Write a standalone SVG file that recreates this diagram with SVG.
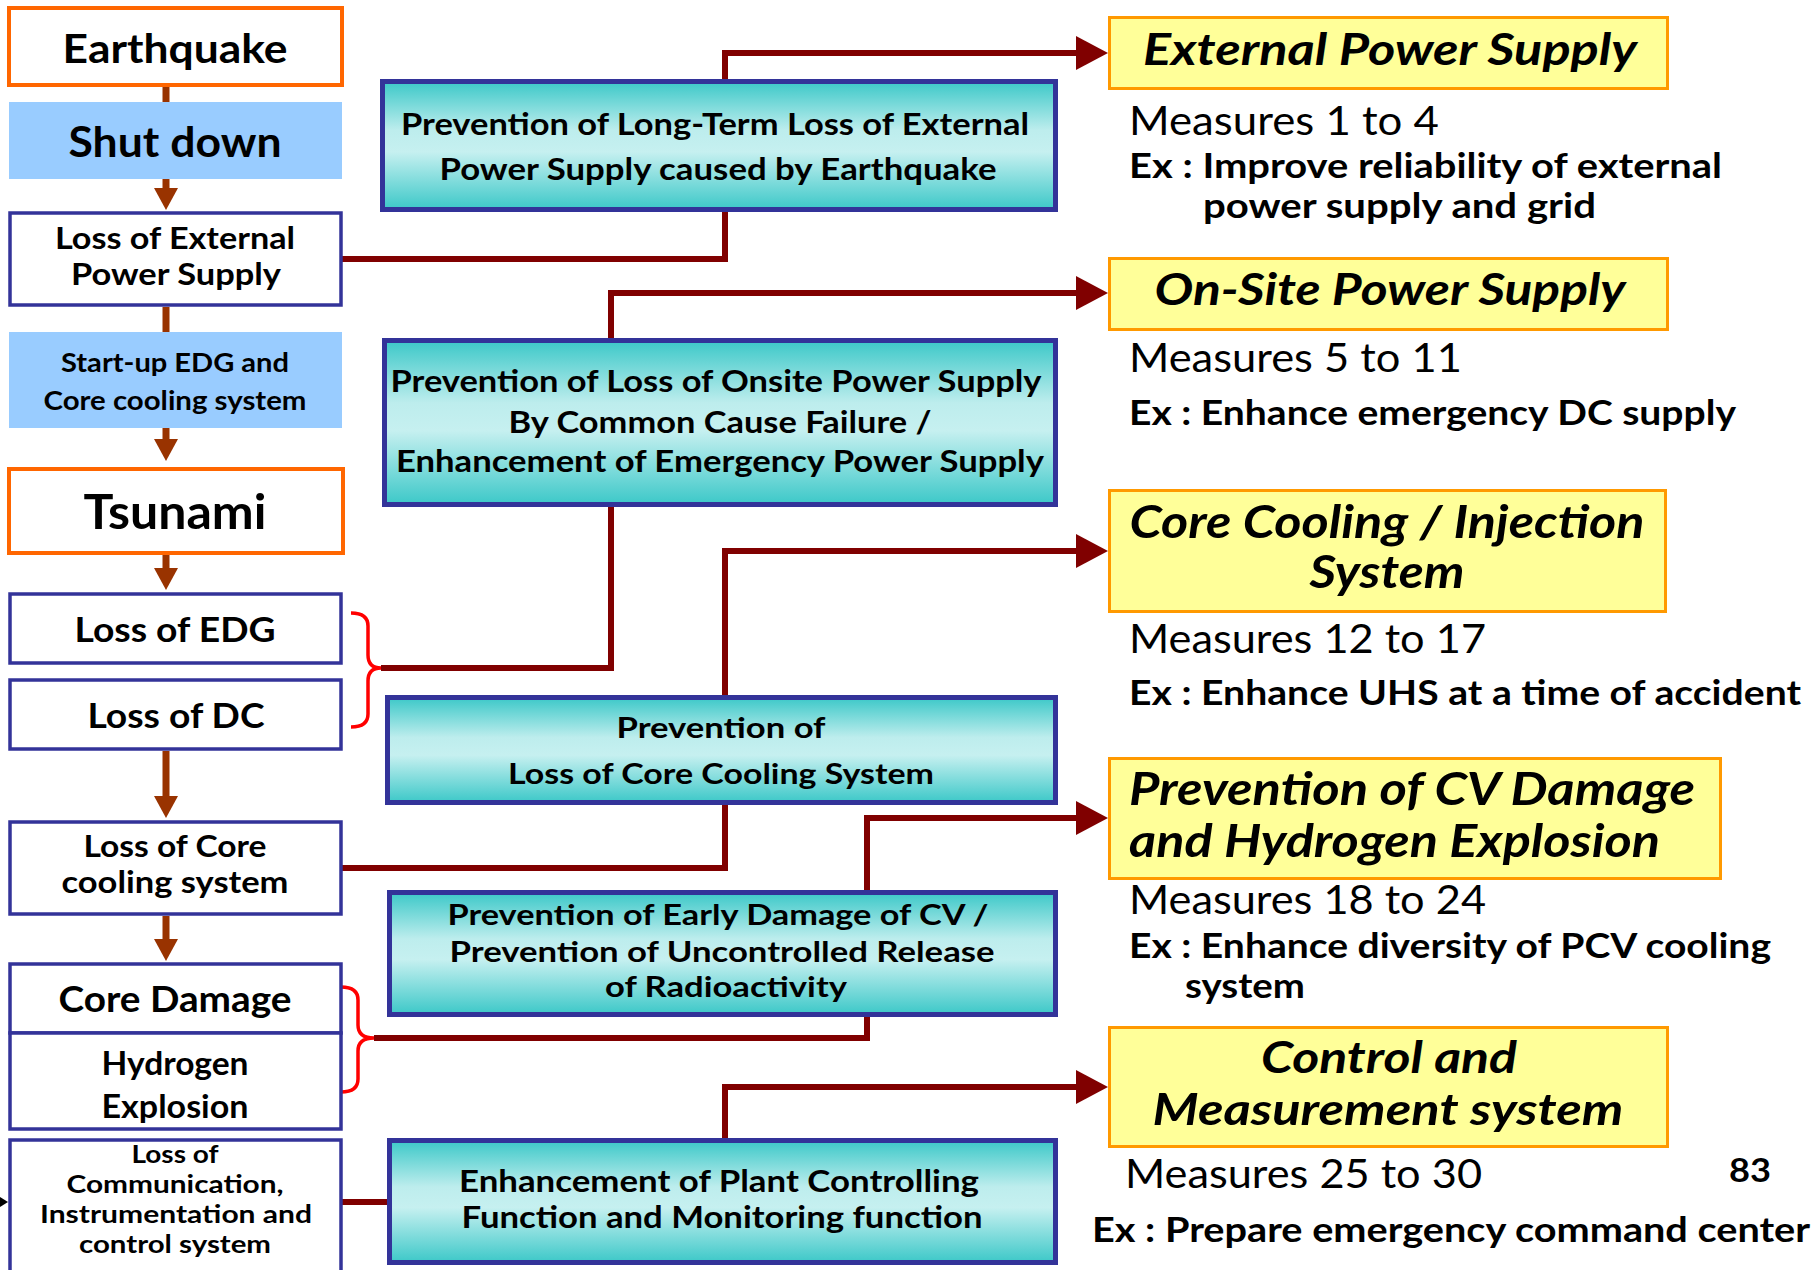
<svg xmlns="http://www.w3.org/2000/svg" width="1814" height="1270" viewBox="0 0 1814 1270">
<style>
text{font-family:Lato,"Open Sans","Liberation Sans",sans-serif;fill:#000}
.b{font-weight:bold}
.bi{font-weight:bold;font-style:italic}
.r{font-weight:normal}
.mid{text-anchor:middle}
.lb{fill:#fff;stroke:#333399;stroke-width:3.5}
.ob{fill:#fff;stroke:#FF6600;stroke-width:4}
.sb{fill:#99CCFF;stroke:none}
.tb{fill:url(#teal);stroke:#333399;stroke-width:5}
.yb{fill:#FFFF99;stroke:#FF9900;stroke-width:3}
.cn{fill:none;stroke:#800000;stroke-width:6;stroke-linejoin:miter}
.br{fill:none;stroke:#993300;stroke-width:7}
.brace{fill:none;stroke:#FF0000;stroke-width:3.5}
</style>
<defs>
<linearGradient id="teal" x1="0" y1="0" x2="0" y2="1">
<stop offset="0" stop-color="#3CC8C8"/>
<stop offset="0.38" stop-color="#BDEDED"/>
<stop offset="0.55" stop-color="#C6F0F0"/>
<stop offset="1" stop-color="#3CC8C8"/>
</linearGradient>
<marker id="ahr" viewBox="0 0 32 34" markerWidth="32" markerHeight="34" refX="4" refY="17" orient="auto" markerUnits="userSpaceOnUse">
<path d="M0,0 L32,17 L0,34 Z" fill="#800000"/>
</marker>
<marker id="ahb" viewBox="0 0 22 24" markerWidth="22" markerHeight="24" refX="2" refY="12" orient="auto" markerUnits="userSpaceOnUse">
<path d="M0,0 L22,12 L0,24 Z" fill="#993300"/>
</marker>
</defs>

<g id="connectors">
<path class="br" d="M166 87 V102"/>
<path class="br" d="M166 179 V190" marker-end="url(#ahb)"/>
<path class="br" d="M166 307 V332"/>
<path class="br" d="M166 428 V441" marker-end="url(#ahb)"/>
<path class="br" d="M166 555 V570" marker-end="url(#ahb)"/>
<path class="br" d="M166 751 V798" marker-end="url(#ahb)"/>
<path class="br" d="M166 916 V941" marker-end="url(#ahb)"/>
<path class="cn" d="M342 259 H725 V212"/>
<path class="cn" d="M725 80 V53 H1080" marker-end="url(#ahr)"/>
<path class="cn" d="M381 668 H611 V507"/>
<path class="cn" d="M611 338 V293 H1080" marker-end="url(#ahr)"/>
<path class="cn" d="M342 868 H725 V805"/>
<path class="cn" d="M725 695 V551 H1080" marker-end="url(#ahr)"/>
<path class="cn" d="M374 1038 H867 V1017"/>
<path class="cn" d="M867 890 V818 H1080" marker-end="url(#ahr)"/>
<path class="cn" d="M342 1202 H388"/>
<path class="cn" d="M725 1138 V1087 H1080" marker-end="url(#ahr)"/>
<path class="brace" d="M351 613 Q368 613 368 626 V655 Q368 668 381 668 Q368 668 368 681 V714 Q368 727 351 727"/>
<path class="brace" d="M341 987 Q358 987 358 1000 V1025 Q358 1038 374 1038 Q358 1038 358 1051 V1079 Q358 1092 341 1092"/>
<polygon points="0,1197 8,1202 0,1207" fill="#000"/>
</g>

<g id="earthquake">
<rect class="ob" x="9" y="8" width="333" height="77"/>
<text class="b mid" x="175" y="63" font-size="41" textLength="225" lengthAdjust="spacingAndGlyphs">Earthquake</text>
</g>
<g id="shutdown">
<rect class="sb" x="9" y="102" width="333" height="77"/>
<text class="b mid" x="175" y="157" font-size="42" textLength="213" lengthAdjust="spacingAndGlyphs">Shut down</text>
</g>
<g id="loss-external">
<rect class="lb" x="10" y="213" width="331" height="92"/>
<text class="b mid" x="175" y="249" font-size="30" textLength="240" lengthAdjust="spacingAndGlyphs">Loss of External</text>
<text class="b mid" x="176" y="285" font-size="30" textLength="210" lengthAdjust="spacingAndGlyphs">Power Supply</text>
</g>
<g id="startup">
<rect class="sb" x="9" y="332" width="333" height="96"/>
<text class="b mid" x="175" y="372" font-size="27" textLength="228" lengthAdjust="spacingAndGlyphs">Start-up EDG and</text>
<text class="b mid" x="175" y="410" font-size="27" textLength="263" lengthAdjust="spacingAndGlyphs">Core cooling system</text>
</g>
<g id="tsunami">
<rect class="ob" x="9" y="469" width="334" height="84"/>
<text class="b mid" x="175" y="529" font-size="47" textLength="183" lengthAdjust="spacingAndGlyphs">Tsunami</text>
</g>
<g id="loss-edg">
<rect class="lb" x="10" y="594" width="331" height="69"/>
<text class="b mid" x="175" y="642" font-size="35" textLength="201" lengthAdjust="spacingAndGlyphs">Loss of EDG</text>
</g>
<g id="loss-dc">
<rect class="lb" x="10" y="680" width="331" height="69"/>
<text class="b mid" x="176" y="728" font-size="35" textLength="177" lengthAdjust="spacingAndGlyphs">Loss of DC</text>
</g>
<g id="loss-core">
<rect class="lb" x="10" y="822" width="331" height="92"/>
<text class="b mid" x="175" y="857" font-size="30" textLength="183" lengthAdjust="spacingAndGlyphs">Loss of Core</text>
<text class="b mid" x="175" y="893" font-size="30" textLength="227" lengthAdjust="spacingAndGlyphs">cooling system</text>
</g>
<g id="core-damage">
<rect class="lb" x="10" y="964" width="331" height="69"/>
<text class="b mid" x="175" y="1012" font-size="36" textLength="233" lengthAdjust="spacingAndGlyphs">Core Damage</text>
</g>
<g id="hydrogen">
<rect class="lb" x="10" y="1033" width="331" height="96"/>
<text class="b mid" x="175" y="1075" font-size="32" textLength="147" lengthAdjust="spacingAndGlyphs">Hydrogen</text>
<text class="b mid" x="175" y="1118" font-size="32" textLength="147" lengthAdjust="spacingAndGlyphs">Explosion</text>
</g>
<g id="loss-comm">
<rect class="lb" x="10" y="1140" width="331" height="140"/>
<text class="b mid" x="175" y="1163" font-size="25" textLength="87" lengthAdjust="spacingAndGlyphs">Loss of</text>
<text class="b mid" x="175" y="1193" font-size="25" textLength="217" lengthAdjust="spacingAndGlyphs">Communication,</text>
<text class="b mid" x="176" y="1223" font-size="25" textLength="272" lengthAdjust="spacingAndGlyphs">Instrumentation and</text>
<text class="b mid" x="175" y="1253" font-size="25" textLength="192" lengthAdjust="spacingAndGlyphs">control system</text>
</g>

<g id="prev-external">
<rect class="tb" x="382.5" y="81.5" width="673" height="128"/>
<text class="b mid" x="715" y="135" font-size="30" textLength="628" lengthAdjust="spacingAndGlyphs">Prevention of Long-Term Loss of External</text>
<text class="b mid" x="718" y="180" font-size="30" textLength="557" lengthAdjust="spacingAndGlyphs">Power Supply caused by Earthquake</text>
</g>
<g id="prev-onsite">
<rect class="tb" x="384.5" y="340.5" width="671" height="164"/>
<text class="b mid" x="716" y="392" font-size="30" textLength="651" lengthAdjust="spacingAndGlyphs">Prevention of Loss of Onsite Power Supply</text>
<text class="b mid" x="720" y="433" font-size="30" textLength="423" lengthAdjust="spacingAndGlyphs">By Common Cause Failure /</text>
<text class="b mid" x="720" y="472" font-size="30" textLength="648" lengthAdjust="spacingAndGlyphs">Enhancement of Emergency Power Supply</text>
</g>
<g id="prev-core">
<rect class="tb" x="387.5" y="697.5" width="668" height="105"/>
<text class="b mid" x="721" y="738" font-size="29" textLength="209" lengthAdjust="spacingAndGlyphs">Prevention of</text>
<text class="b mid" x="721" y="784" font-size="29" textLength="426" lengthAdjust="spacingAndGlyphs">Loss of Core Cooling System</text>
</g>
<g id="prev-cv">
<rect class="tb" x="389.5" y="892.5" width="666" height="122"/>
<text class="b mid" x="718" y="925" font-size="28" textLength="541" lengthAdjust="spacingAndGlyphs">Prevention of Early Damage of CV /</text>
<text class="b mid" x="722" y="962" font-size="28" textLength="545" lengthAdjust="spacingAndGlyphs">Prevention of Uncontrolled Release</text>
<text class="b mid" x="726" y="997" font-size="28" textLength="242" lengthAdjust="spacingAndGlyphs">of Radioactivity</text>
</g>
<g id="enh-control">
<rect class="tb" x="389.5" y="1140.5" width="666" height="122"/>
<text class="b mid" x="719" y="1192" font-size="30" textLength="520" lengthAdjust="spacingAndGlyphs">Enhancement of Plant Controlling</text>
<text class="b mid" x="722" y="1228" font-size="30" textLength="521" lengthAdjust="spacingAndGlyphs">Function and Monitoring function</text>
</g>

<g id="external-power">
<rect class="yb" x="1109.5" y="17.5" width="558" height="71"/>
<text class="bi mid" x="1390" y="65" font-size="44" textLength="494" lengthAdjust="spacingAndGlyphs">External Power Supply</text>
<text class="r" x="1129" y="135" font-size="40" textLength="310" lengthAdjust="spacingAndGlyphs">Measures 1 to 4</text>
<text class="b" x="1129" y="178" font-size="34" textLength="593" lengthAdjust="spacingAndGlyphs">Ex : Improve reliability of external</text>
<text class="b" x="1203" y="218" font-size="34" textLength="393" lengthAdjust="spacingAndGlyphs">power supply and grid</text>
</g>
<g id="onsite-power">
<rect class="yb" x="1109.5" y="258.5" width="558" height="71"/>
<text class="bi mid" x="1390" y="305" font-size="44" textLength="471" lengthAdjust="spacingAndGlyphs">On-Site Power Supply</text>
<text class="r" x="1129" y="372" font-size="40" textLength="333" lengthAdjust="spacingAndGlyphs">Measures 5 to 11</text>
<text class="b" x="1129" y="425" font-size="34" textLength="607" lengthAdjust="spacingAndGlyphs">Ex : Enhance emergency DC supply</text>
</g>
<g id="core-cooling">
<rect class="yb" x="1109.5" y="490.5" width="556" height="121"/>
<text class="bi mid" x="1387" y="538" font-size="46" textLength="515" lengthAdjust="spacingAndGlyphs">Core Cooling / Injection</text>
<text class="bi mid" x="1387" y="588" font-size="46" textLength="155" lengthAdjust="spacingAndGlyphs">System</text>
<text class="r" x="1129" y="653" font-size="40" textLength="357" lengthAdjust="spacingAndGlyphs">Measures 12 to 17</text>
<text class="b" x="1129" y="705" font-size="34" textLength="672" lengthAdjust="spacingAndGlyphs">Ex : Enhance UHS at a time of accident</text>
</g>
<g id="cv-damage">
<rect class="yb" x="1109.5" y="758.5" width="611" height="120"/>
<text class="bi" x="1129" y="805" font-size="45" textLength="566" lengthAdjust="spacingAndGlyphs">Prevention of CV Damage</text>
<text class="bi" x="1129" y="857" font-size="45" textLength="531" lengthAdjust="spacingAndGlyphs">and Hydrogen Explosion</text>
<text class="r" x="1129" y="914" font-size="40" textLength="357" lengthAdjust="spacingAndGlyphs">Measures 18 to 24</text>
<text class="b" x="1129" y="958" font-size="34" textLength="642" lengthAdjust="spacingAndGlyphs">Ex : Enhance diversity of PCV cooling</text>
<text class="b" x="1185" y="998" font-size="34" textLength="120" lengthAdjust="spacingAndGlyphs">system</text>
</g>
<g id="control-measurement">
<rect class="yb" x="1109.5" y="1027.5" width="558" height="119"/>
<text class="bi mid" x="1389" y="1073" font-size="44" textLength="256" lengthAdjust="spacingAndGlyphs">Control and</text>
<text class="bi mid" x="1388" y="1125" font-size="44" textLength="471" lengthAdjust="spacingAndGlyphs">Measurement system</text>
<text class="r" x="1125" y="1188" font-size="40" textLength="357" lengthAdjust="spacingAndGlyphs">Measures 25 to 30</text>
<text class="b" x="1092" y="1242" font-size="34" textLength="718" lengthAdjust="spacingAndGlyphs">Ex : Prepare emergency command center</text>
</g>
<g id="page-number">
<text class="b" x="1729" y="1182" font-size="32" textLength="42" lengthAdjust="spacingAndGlyphs">83</text>
</g>
</svg>
